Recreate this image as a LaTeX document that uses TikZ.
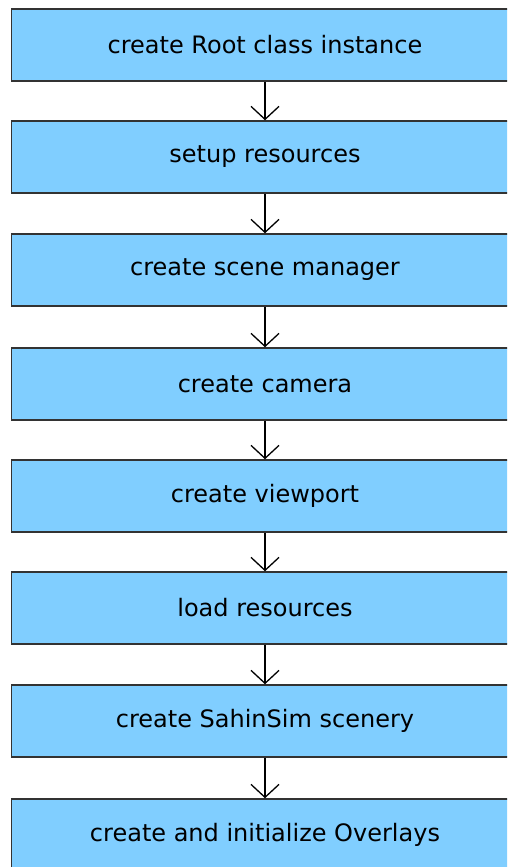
\documentclass[tikz,border=0pt]{standalone}
\usepackage{fontspec}
\setmainfont{DejaVu Sans}
\usetikzlibrary{arrows.meta}
\definecolor{boxblue}{HTML}{80CEFF}
\definecolor{boxline}{HTML}{333333}
\begin{document}
\begin{tikzpicture}[x=1pt,y=1pt]

      \useasboundingbox (0,0) rectangle (507,-867);
      \clip (0,0) rectangle (507,-867);

      \begin{scope}[every node/.style={rectangle,draw=boxline,fill=boxblue,line width=1.5pt,
          minimum width=507pt,minimum height=72pt,inner sep=0pt,
          font=\fontsize{24}{28}\selectfont}]
        \node (1) at (265,-45)  {create Root class instance};
        \node (2) at (265,-157) {setup resources};
        \node (3) at (265,-270) {create scene manager};
        \node (4) at (265,-384) {create camera};
        \node (5) at (265,-496) {create viewport};
        \node (6) at (265,-608) {load resources};
        \node (7) at (265,-721) {create SahinSim scenery};
        \node (8) at (265,-835) {create and initialize Overlays};
      \end{scope}

      \begin{scope}[every edge/.style={draw,line width=1.3pt,
          -{Straight Barb[length=13pt,width=28pt,line width=1.3pt]}}]
        \path (1) edge (2);
        \path (2) edge (3);
        \path (3) edge (4);
        \path (4) edge (5);
        \path (5) edge (6);
        \path (6) edge (7);
        \path (7) edge (8);
      \end{scope}

    \end{tikzpicture}
\end{document}
